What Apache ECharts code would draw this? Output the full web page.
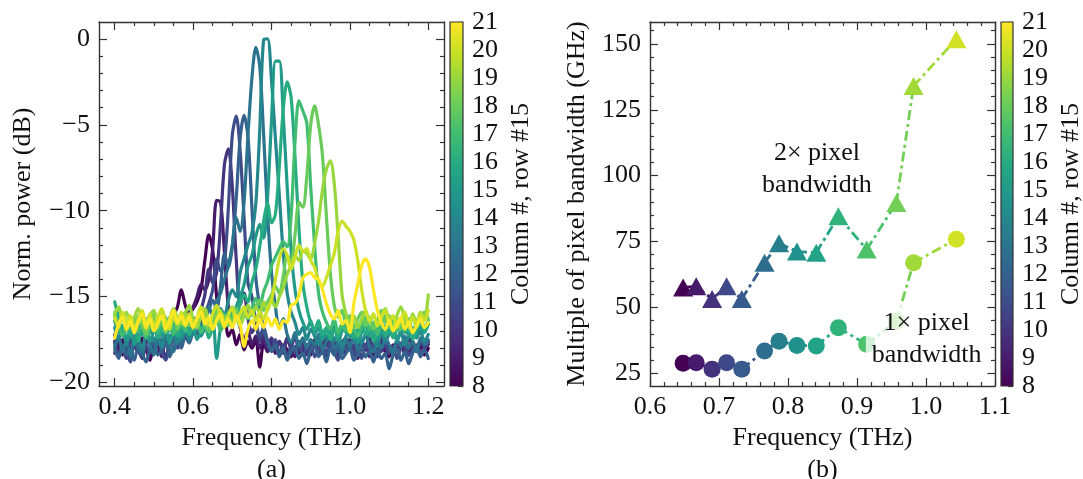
<!DOCTYPE html>
<html>
<head>
<meta charset="utf-8">
<title>Pixel spectra and bandwidth</title>
<script src="https://cdn.jsdelivr.net/npm/echarts@6/dist/echarts.min.js"></script>
<style>
  html, body { margin: 0; padding: 0; background: #ffffff; }
  #chart { width: 1083px; height: 479px; }
</style>
</head>
<body>
<div id="chart"></div>
<script>
// Frequency sampling of the measured spectra (THz)
const freqGrid = [
  0.40, 0.41, 0.42, 0.43, 0.44, 0.45, 0.46, 0.47, 0.48, 0.49,
  0.50, 0.51, 0.52, 0.53, 0.54, 0.55, 0.56, 0.57, 0.58, 0.59,
  0.60, 0.61, 0.62, 0.63, 0.64, 0.65, 0.66, 0.67, 0.68, 0.69,
  0.70, 0.71, 0.72, 0.73, 0.74, 0.75, 0.76, 0.77, 0.78, 0.79,
  0.80, 0.81, 0.82, 0.83, 0.84, 0.85, 0.86, 0.87, 0.88, 0.89,
  0.90, 0.91, 0.92, 0.93, 0.94, 0.95, 0.96, 0.97, 0.98, 0.99,
  1.00, 1.01, 1.02, 1.03, 1.04, 1.05, 1.06, 1.07, 1.08, 1.09,
  1.10, 1.11, 1.12, 1.13, 1.14, 1.15, 1.16, 1.17, 1.18, 1.19, 1.20
];

// Pixel columns (row #15)
const columns = [8, 9, 10, 11, 12, 13, 14, 15, 16, 17, 18, 19, 20, 21];

// Normalised power spectra (dB), one per column
const spec08 = [-17.6,-18.3,-17.5,-18.1,-18.6,-17.8,-18.2,-17.4,-18.0,-18.7,
  -17.9,-18.3,-17.6,-17.2,-16.6,-16.1,-15.6,-14.6,-15.5,-16.0,
  -15.7,-15.3,-14.6,-12.9,-11.4,-12.3,-15.0,-16.8,-16.2,-17.3,
  -16.9,-17.8,-17.2,-18.1,-17.6,-18.0,-17.5,-19.1,-17.7,-18.2,
  -17.6,-18.0,-18.4,-17.8,-18.1,-18.5,-17.9,-18.3,-17.7,-18.0,
  -18.4,-17.6,-18.1,-17.9,-18.5,-17.8,-18.2,-17.6,-18.3,-18.0,
  -17.5,-18.2,-18.6,-17.9,-18.1,-17.7,-18.4,-18.0,-17.6,-18.2,
  -18.5,-17.8,-18.1,-17.7,-18.3,-18.0,-17.6,-18.2,-17.9,-18.4,-18.0];
const spec09 = [-17.2,-17.9,-18.4,-17.6,-18.1,-17.3,-18.0,-18.6,-17.7,-17.4,
  -18.2,-17.8,-18.5,-17.5,-17.9,-17.2,-16.8,-17.4,-16.6,-16.0,
  -15.6,-15.0,-14.3,-14.6,-14.0,-12.2,-9.4,-9.5,-12.4,-15.6,
  -16.4,-15.9,-16.8,-17.5,-17.0,-17.8,-17.3,-18.0,-17.5,-18.2,
  -17.7,-18.3,-17.6,-18.0,-17.4,-18.1,-18.5,-17.7,-18.2,-17.8,
  -18.0,-17.5,-18.3,-17.9,-17.4,-18.1,-17.8,-18.4,-17.6,-18.0,
  -17.7,-18.2,-17.5,-18.1,-17.8,-18.5,-17.6,-18.0,-17.4,-18.2,
  -17.9,-18.3,-17.6,-18.0,-17.7,-18.4,-17.8,-18.1,-17.5,-18.0,-17.8];
const spec10 = [-18.3,-17.5,-17.9,-18.6,-17.4,-18.0,-17.6,-18.4,-17.2,-17.8,
  -18.1,-17.3,-17.9,-18.5,-17.6,-17.0,-17.7,-16.9,-17.3,-16.6,
  -16.2,-16.7,-15.8,-14.9,-13.4,-14.2,-13.6,-10.8,-7.3,-6.4,
  -8.6,-12.8,-15.5,-14.8,-16.3,-17.1,-16.7,-17.6,-17.2,-17.9,
  -17.4,-18.0,-17.6,-18.3,-17.5,-17.9,-17.3,-18.1,-17.7,-18.4,
  -17.6,-17.9,-18.2,-17.4,-17.8,-18.0,-17.5,-18.3,-17.7,-17.4,
  -18.1,-17.8,-18.4,-17.6,-17.9,-17.3,-18.0,-17.7,-18.2,-17.5,
  -17.9,-18.3,-17.6,-17.8,-18.1,-17.4,-17.9,-18.2,-17.7,-18.0,-17.6];
const spec11 = [-17.7,-18.4,-17.9,-18.2,-18.8,-17.6,-18.1,-18.5,-17.8,-18.3,
  -18.0,-17.5,-18.2,-18.7,-17.9,-17.4,-18.0,-17.6,-17.1,-17.5,
  -16.8,-17.2,-16.5,-16.0,-15.4,-14.6,-12.8,-13.5,-13.0,-9.8,
  -5.6,-4.5,-6.5,-10.4,-14.2,-15.0,-16.4,-17.3,-16.8,-17.6,
  -18.1,-17.5,-18.3,-17.8,-18.6,-17.9,-18.2,-17.6,-18.4,-18.0,
  -17.7,-18.5,-18.1,-17.8,-18.3,-17.6,-18.2,-18.7,-17.9,-18.1,
  -17.6,-18.4,-18.0,-18.6,-17.8,-18.2,-17.7,-18.5,-18.0,-17.8,
  -18.3,-17.9,-18.6,-18.0,-17.7,-18.4,-18.1,-17.8,-18.3,-18.0,-17.7];
const spec12 = [-18.0,-18.6,-17.8,-18.4,-18.1,-18.7,-17.9,-18.3,-18.8,-18.0,
  -17.6,-18.4,-18.1,-17.7,-18.5,-17.9,-17.4,-18.0,-17.3,-17.7,
  -17.0,-16.6,-17.1,-16.3,-15.8,-15.2,-15.7,-14.4,-12.5,-13.3,
  -12.1,-9.3,-5.8,-4.45,-5.7,-9.8,-13.9,-15.6,-16.9,-17.6,
  -18.2,-17.8,-18.5,-18.0,-18.7,-18.2,-17.9,-18.6,-18.3,-18.9,
  -18.1,-17.8,-18.5,-18.2,-18.8,-18.0,-18.4,-17.9,-18.6,-18.3,
  -18.0,-18.7,-18.4,-17.9,-18.5,-18.2,-18.8,-18.1,-18.6,-18.3,
  -19.2,-18.4,-18.0,-18.7,-18.2,-18.9,-18.3,-17.9,-18.5,-18.1,-18.6];
const spec13 = [-17.9,-17.3,-18.2,-17.6,-18.5,-17.4,-17.9,-18.3,-17.2,-17.8,
  -18.4,-17.5,-18.0,-17.3,-17.9,-18.2,-17.1,-17.6,-17.0,-16.7,
  -17.2,-16.5,-16.9,-16.2,-15.6,-16.1,-15.3,-14.8,-14.0,-13.2,
  -12.0,-10.4,-11.2,-9.5,-5.6,-2.3,-0.5,-1.6,-5.6,-10.2,
  -13.6,-15.6,-16.8,-16.3,-17.2,-17.7,-17.1,-17.9,-17.4,-18.0,
  -17.5,-17.8,-17.2,-18.1,-17.6,-17.3,-18.0,-17.7,-18.3,-17.5,
  -17.9,-17.4,-18.1,-17.7,-17.2,-17.9,-18.2,-17.6,-18.0,-17.4,
  -17.8,-18.3,-17.5,-17.9,-17.3,-18.0,-17.6,-18.2,-17.4,-17.8,-17.5];
const spec14 = [-16.8,-17.5,-16.9,-17.8,-17.2,-16.6,-17.4,-18.0,-17.1,-16.7,
  -17.6,-17.2,-17.9,-16.9,-17.4,-17.0,-17.7,-17.1,-16.8,-17.5,
  -17.0,-16.6,-17.3,-16.8,-16.3,-16.9,-16.2,-15.7,-16.1,-15.2,
  -14.6,-15.0,-13.6,-12.8,-12.0,-11.3,-9.6,-5.3,-0.05,0.0,
  -2.4,-5.8,-9.1,-12.5,-14.8,-15.9,-16.5,-17.2,-16.8,-17.5,
  -16.9,-17.3,-17.8,-17.0,-17.4,-16.8,-17.6,-17.1,-17.9,-17.3,
  -16.9,-17.5,-17.0,-17.7,-17.2,-16.8,-17.4,-17.9,-17.1,-17.6,
  -17.2,-16.9,-17.5,-17.0,-17.8,-17.3,-16.8,-17.4,-17.0,-17.6,-17.2];
const spec15 = [-16.4,-17.1,-16.7,-17.5,-16.9,-17.8,-16.6,-17.2,-16.8,-17.6,
  -17.0,-16.5,-17.3,-16.9,-17.7,-17.1,-16.6,-17.4,-16.9,-17.2,
  -16.7,-17.5,-17.0,-16.4,-16.9,-16.3,-18.6,-16.8,-16.2,-15.9,
  -16.4,-15.6,-15.0,-14.3,-13.2,-12.6,-11.5,-10.8,-11.6,-9.2,
  -4.8,-1.3,-1.3,-4.5,-8.6,-12.3,-14.6,-15.8,-16.5,-16.9,
  -16.4,-17.2,-16.8,-17.5,-16.9,-17.3,-16.7,-17.6,-17.0,-16.6,
  -17.4,-16.9,-17.7,-17.1,-16.6,-17.3,-16.8,-17.5,-17.0,-16.7,
  -17.2,-16.8,-17.6,-17.0,-16.5,-17.3,-16.9,-17.4,-16.7,-17.1,-16.6];
const spec16 = [-15.3,-16.2,-16.9,-16.4,-17.3,-16.7,-17.6,-16.8,-16.3,-17.1,
  -16.6,-17.4,-16.9,-16.2,-17.0,-16.5,-17.3,-16.8,-16.4,-17.2,
  -16.7,-16.3,-17.0,-16.6,-17.4,-16.8,-16.1,-16.7,-16.0,-16.5,
  -15.8,-16.2,-15.4,-14.9,-15.3,-14.2,-13.4,-12.1,-10.6,-9.6,
  -10.7,-10.2,-7.4,-4.1,-2.5,-3.4,-6.9,-11.0,-14.2,-15.6,
  -16.5,-16.9,-16.4,-17.2,-16.8,-17.5,-16.9,-17.3,-16.6,-17.1,
  -16.7,-17.4,-16.9,-16.4,-17.2,-16.8,-17.6,-17.0,-16.5,-17.3,
  -16.8,-17.4,-16.9,-16.3,-17.1,-16.7,-17.5,-16.9,-16.4,-17.0,-16.6];
const spec17 = [-16.1,-16.8,-17.3,-16.5,-16.9,-16.2,-17.0,-16.6,-17.4,-16.7,
  -16.3,-17.1,-16.5,-16.9,-16.2,-17.2,-16.7,-16.3,-17.0,-16.5,
  -16.9,-16.4,-17.1,-16.6,-16.2,-16.8,-16.3,-17.0,-16.5,-16.1,
  -16.7,-16.2,-16.6,-15.9,-16.3,-15.7,-15.1,-15.5,-14.7,-14.1,
  -13.2,-12.7,-12.2,-11.8,-12.1,-10.3,-6.0,-3.6,-4.2,-4.9,
  -8.6,-12.0,-14.8,-15.9,-16.5,-16.9,-16.3,-17.1,-16.6,-17.0,
  -16.4,-16.9,-17.3,-16.7,-16.2,-16.9,-16.5,-17.2,-16.6,-16.1,
  -16.8,-16.4,-17.0,-16.5,-16.9,-16.3,-17.1,-16.6,-16.2,-16.8,-16.4];
const spec18 = [-15.9,-16.6,-16.2,-17.0,-16.4,-16.9,-16.1,-16.7,-17.2,-16.5,
  -16.0,-16.8,-16.3,-17.1,-16.6,-16.2,-16.9,-16.4,-15.9,-16.7,
  -16.3,-16.8,-16.1,-16.6,-17.0,-16.4,-15.8,-16.5,-16.1,-16.7,
  -16.2,-15.7,-16.4,-16.0,-15.5,-16.1,-15.6,-15.2,-15.8,-15.3,
  -14.9,-14.4,-14.8,-13.8,-12.6,-12.9,-11.4,-9.5,-9.8,-8.0,
  -5.0,-3.9,-5.0,-6.8,-10.3,-13.6,-15.5,-16.2,-15.8,-16.6,
  -16.1,-16.8,-16.3,-15.9,-16.7,-16.2,-16.9,-16.4,-15.8,-16.5,
  -16.1,-16.8,-16.3,-16.9,-16.0,-16.6,-16.2,-16.8,-16.4,-15.9,-16.3];
const spec19 = [-16.0,-15.6,-16.3,-15.9,-16.7,-16.2,-15.7,-16.4,-16.9,-16.1,
  -15.8,-16.5,-16.0,-16.8,-16.3,-15.7,-16.2,-16.6,-16.0,-15.5,
  -16.3,-16.8,-16.1,-15.7,-16.4,-16.9,-16.2,-15.8,-16.5,-16.0,
  -15.6,-16.2,-16.7,-16.1,-15.5,-16.0,-15.6,-15.9,-15.3,-15.8,
  -15.2,-15.6,-15.0,-14.5,-13.7,-13.2,-12.6,-12.9,-12.3,-12.5,
  -12.8,-11.9,-10.6,-8.8,-7.6,-7.1,-8.4,-11.5,-14.9,-16.0,
  -16.6,-16.1,-16.8,-16.3,-15.8,-16.5,-16.0,-16.7,-16.2,-15.7,
  -16.4,-16.9,-16.1,-15.6,-16.3,-16.8,-16.0,-16.5,-15.9,-16.3,-14.9];
const spec20 = [-16.2,-16.8,-15.9,-16.5,-16.1,-16.9,-16.3,-15.8,-16.6,-16.0,
  -16.7,-16.2,-15.7,-16.4,-16.9,-16.1,-16.6,-15.9,-16.5,-16.0,
  -16.8,-16.2,-15.6,-16.3,-16.7,-16.0,-15.5,-16.2,-16.8,-16.1,
  -15.7,-16.4,-16.0,-15.6,-16.2,-15.8,-16.4,-15.9,-16.3,-15.7,
  -15.2,-14.0,-12.8,-12.2,-12.6,-13.4,-12.7,-12.0,-12.4,-12.2,
  -12.9,-13.3,-14.1,-14.4,-13.9,-13.2,-12.5,-11.2,-10.6,-10.9,
  -11.2,-11.7,-12.9,-14.6,-15.8,-16.4,-16.0,-16.7,-16.2,-15.8,
  -16.5,-16.1,-16.8,-16.3,-15.9,-16.6,-16.2,-16.7,-16.0,-16.4,-15.8];
const spec21 = [-17.4,-16.6,-16.2,-16.9,-16.4,-17.1,-16.5,-16.0,-16.8,-16.3,
  -17.0,-16.6,-16.1,-16.9,-16.4,-15.8,-16.5,-16.1,-16.7,-16.2,
  -16.8,-16.3,-15.9,-16.6,-16.2,-16.9,-16.4,-16.0,-16.7,-16.3,
  -16.8,-16.1,-16.6,-17.9,-16.9,-16.4,-16.9,-16.3,-16.8,-16.2,
  -16.7,-16.3,-16.9,-16.4,-16.5,-15.5,-15.4,-14.9,-13.9,-13.7,
  -13.6,-13.9,-14.0,-14.6,-15.4,-16.0,-16.3,-15.8,-16.6,-16.4,
  -17.1,-15.4,-14.3,-13.2,-12.8,-13.3,-14.6,-15.8,-16.5,-16.9,
  -16.4,-17.0,-16.6,-16.2,-16.9,-16.5,-17.1,-16.7,-16.3,-16.8,-16.5];
const spectra = [spec08, spec09, spec10, spec11, spec12, spec13, spec14,
                 spec15, spec16, spec17, spec18, spec19, spec20, spec21];

// Panel (b): peak frequency of each pixel (THz) and bandwidth multiples (GHz)
const peakFreq    = [0.648, 0.667, 0.690, 0.711, 0.733, 0.766, 0.787, 0.813, 0.841, 0.873, 0.914, 0.957, 0.982, 1.044];
const bandwidth2x = [57.6, 58.0, 53.2, 58.0, 53.2, 67.0, 74.4, 71.2, 70.8, 84.6, 72.0, 89.6, 134.0, 151.8];
const bandwidth1x = [28.8, 29.0, 26.6, 29.0, 26.6, 33.5, 37.2, 35.6, 35.4, 42.3, 36.0, 44.8, 67.0, 75.9];

// Tick labels
const ticksFreqA   = [0.4, 0.6, 0.8, 1.0, 1.2];
const ticksPowerA  = [0, -5, -10, -15, -20];
const ticksFreqB   = [0.6, 0.7, 0.8, 0.9, 1.0, 1.1];
const ticksBandB   = [25, 50, 75, 100, 125, 150];
const ticksColumn  = [8, 9, 10, 11, 12, 13, 14, 15, 16, 17, 18, 19, 20, 21];

// ---------------------------------------------------------------------------
const FONT = '"Liberation Serif", "Times New Roman", serif';
const INK = '#111111';
const FRAME = '#333333';
const FS = 26;

const VIRIDIS = ['#440154', '#482475', '#414487', '#355f8d', '#2a788e', '#21918c',
                 '#22a884', '#44bf70', '#7ad151', '#bddf26', '#fde725'];
function hexRgb(h) { return [1, 3, 5].map(k => parseInt(h.slice(k, k + 2), 16)); }
function viridis(t) {
  t = Math.max(0, Math.min(1, t));
  const s = t * (VIRIDIS.length - 1);
  const i = Math.min(VIRIDIS.length - 2, Math.floor(s));
  const f = s - i;
  const a = hexRgb(VIRIDIS[i]), b = hexRgb(VIRIDIS[i + 1]);
  const c = a.map((v, k) => Math.round(v + (b[k] - v) * f));
  return 'rgb(' + c.join(',') + ')';
}
const cbMin = ticksColumn[0], cbMax = ticksColumn[ticksColumn.length - 1];
const colColor = c => viridis((c - cbMin) / (cbMax - cbMin));
// markers of panel (b) stop short of the yellow end of the map
const markerColor = c => viridis((c - cbMin) / (cbMax - cbMin) * 0.93);

function stepTicks(lo, hi, step, skip) {
  const out = [];
  const n0 = Math.ceil(lo / step - 1e-9), n1 = Math.floor(hi / step + 1e-9);
  for (let k = n0; k <= n1; k++) {
    const v = +(k * step).toFixed(4);
    if (v <= lo + 1e-9 || v >= hi - 1e-9) continue;
    if (!skip.some(s => Math.abs(s - v) < 1e-9)) out.push(v);
  }
  return out;
}
const minus = v => (v < 0 ? '\u2212' + Math.abs(v) : String(v));
const lbl = { color: INK, fontFamily: FONT, fontSize: FS };
const tickLine = { color: FRAME, width: 1.2 };
const frameLine = { color: FRAME, width: 1.4 };

const grids = [
  { left: 99, top: 22, width: 345, height: 364 },   // panel (a)
  { left: 450, top: 22, width: 13, height: 364 },   // colour bar (a)
  { left: 650, top: 22, width: 345, height: 364 },  // panel (b)
  { left: 1001, top: 22, width: 12, height: 364 }   // colour bar (b)
].map(g => Object.assign({ outerBoundsMode: 'none', containLabel: false }, g));

const xAxes = [], yAxes = [];

function framedAxes(gi, xr, yr, xMaj, xStep, yMaj, yStep, xFmt, yFmt, xName, yName, yNameGap) {
  const xi = xAxes.length, yi = yAxes.length;
  const xMin = stepTicks(xr[0], xr[1], xStep, xMaj);
  const yMin = stepTicks(yr[0], yr[1], yStep, yMaj);
  const base = (extra) => Object.assign({ gridIndex: gi, type: 'value', splitLine: { show: false } }, extra);
  ['bottom', 'top'].forEach(pos => {
    const main = pos === 'bottom';
    xAxes.push(base({
      min: xr[0], max: xr[1], position: pos,
      axisLine: { show: true, onZero: false, lineStyle: frameLine },
      axisTick: { show: true, inside: true, length: 8, customValues: xMaj, lineStyle: tickLine },
      axisLabel: main ? Object.assign({ show: true, customValues: xMaj, formatter: xFmt, margin: 8 }, lbl) : { show: false },
      name: main ? xName : '', nameLocation: 'middle', nameGap: 38, nameTextStyle: lbl
    }));
    xAxes.push(base({
      min: xr[0], max: xr[1], position: pos,
      axisLine: { show: false, onZero: false },
      axisTick: { show: true, inside: true, length: 4, customValues: xMin, lineStyle: tickLine },
      axisLabel: { show: false }
    }));
  });
  ['left', 'right'].forEach(pos => {
    const main = pos === 'left';
    yAxes.push(base({
      min: yr[0], max: yr[1], position: pos,
      axisLine: { show: true, onZero: false, lineStyle: frameLine },
      axisTick: { show: true, inside: true, length: 8, customValues: yMaj, lineStyle: tickLine },
      axisLabel: main ? Object.assign({ show: true, customValues: yMaj, formatter: yFmt, margin: 9 }, lbl) : { show: false },
      name: main ? yName : '', nameLocation: 'middle', nameGap: yNameGap, nameTextStyle: lbl
    }));
    yAxes.push(base({
      min: yr[0], max: yr[1], position: pos,
      axisLine: { show: false, onZero: false },
      axisTick: { show: true, inside: true, length: 4, customValues: yMin, lineStyle: tickLine },
      axisLabel: { show: false }
    }));
  });
  return { x: xi, y: yi };
}

function colourBarAxes(gi, name) {
  const xi = xAxes.length, yi = yAxes.length;
  xAxes.push({ gridIndex: gi, type: 'value', min: 0, max: 1, show: false });
  yAxes.push({
    gridIndex: gi, type: 'value', min: cbMin, max: cbMax, position: 'right',
    splitLine: { show: false },
    axisLine: { show: false, onZero: false },
    axisTick: { show: true, inside: true, length: 5, customValues: ticksColumn, lineStyle: tickLine },
    axisLabel: Object.assign({ show: true, customValues: ticksColumn, margin: 9 }, lbl),
    name: name, nameLocation: 'middle', nameGap: 45, nameTextStyle: lbl
  });
  yAxes.push({
    gridIndex: gi, type: 'value', min: cbMin, max: cbMax, position: 'right',
    splitLine: { show: false },
    axisLine: { show: false, onZero: false },
    axisTick: { show: true, inside: true, length: 3, customValues: stepTicks(cbMin, cbMax, 0.2, ticksColumn), lineStyle: tickLine },
    axisLabel: { show: false }
  });
  return { x: xi, y: yi };
}

const A = framedAxes(0, [0.36, 1.24], [-20.2, 0.98], ticksFreqA, 0.05, ticksPowerA, 1,
  v => v.toFixed(1), minus, 'Frequency (THz)', 'Norm. power (dB)', 63);
const CA = colourBarAxes(1, 'Column #, row #15');
const B = framedAxes(2, [0.6, 1.1], [20.2, 158.3], ticksFreqB, 0.02, ticksBandB, 5,
  v => v.toFixed(1), v => String(v), 'Frequency (THz)', 'Multiple of pixel bandwidth (GHz)', 60);
const CB = colourBarAxes(3, 'Column #, row #15');

const series = [];

// Panel (a): one spectrum per column
columns.forEach((c, k) => {
  series.push({
    type: 'line', xAxisIndex: A.x, yAxisIndex: A.y,
    data: freqGrid.map((f, i) => [f, spectra[k][i]]),
    symbol: 'none', showSymbol: false, silent: true, z: 2, smooth: 0.3,
    lineStyle: { color: colColor(c), width: 3.2, join: 'round', cap: 'round' }
  });
});

// Colour bars
const barGradient = () => new echarts.graphic.LinearGradient(0, 1, 0, 0,
  VIRIDIS.map((col, i) => ({ offset: i / (VIRIDIS.length - 1), color: col })));
[CA, CB].forEach(ax => {
  series.push({
    type: 'custom', xAxisIndex: ax.x, yAxisIndex: ax.y, silent: true, clip: false,
    data: [[0, cbMin, 1, cbMax]],
    renderItem: (params, api) => {
      const p0 = api.coord([api.value(0), api.value(1)]);
      const p1 = api.coord([api.value(2), api.value(3)]);
      return {
        type: 'rect', z2: 0,
        shape: { x: p0[0], y: p1[1], width: p1[0] - p0[0], height: p0[1] - p1[1] },
        style: { fill: barGradient(), stroke: FRAME, lineWidth: 1.2 }
      };
    }
  });
});

// Panel (b): dash-dot segments coloured by column, then the markers
function bandwidthSeries(values, symbol, size) {
  for (let i = 0; i < values.length - 1; i++) {
    series.push({
      type: 'line', xAxisIndex: B.x, yAxisIndex: B.y, silent: true, z: 2,
      data: [[peakFreq[i], values[i]], [peakFreq[i + 1], values[i + 1]]],
      symbol: 'none', showSymbol: false,
      lineStyle: { color: markerColor(columns[i]), width: 2.8, type: [10, 4, 3, 4] }
    });
  }
  series.push({
    type: 'scatter', xAxisIndex: B.x, yAxisIndex: B.y, silent: true, z: 3,
    symbol: symbol, symbolSize: size,
    data: values.map((v, i) => ({ value: [peakFreq[i], v], itemStyle: { color: markerColor(columns[i]), opacity: 1 } }))
  });
}
bandwidthSeries(bandwidth2x, 'triangle', [20, 18]);
bandwidthSeries(bandwidth1x, 'circle', 17);

const chart = echarts.init(document.getElementById('chart'), null, { renderer: 'canvas' });
chart.setOption({
  animation: false,
  backgroundColor: '#ffffff',
  grid: grids,
  xAxis: xAxes,
  yAxis: yAxes,
  series: series
});

// Text annotations placed in data coordinates of panel (b)
const notes = [
  { text: '2\u00d7 pixel\nbandwidth', f: 0.842, v: 102.6 },
  { text: '1\u00d7 pixel\nbandwidth', f: 1.001, v: 38.0 }
];
const graphics = notes.map(n => {
  const p = chart.convertToPixel({ xAxisIndex: B.x, yAxisIndex: B.y }, [n.f, n.v]);
  return {
    type: 'text', x: p[0], y: p[1], z: 100,
    style: {
      text: n.text, fontFamily: FONT, fontSize: FS, fill: INK, lineHeight: 32,
      align: 'center', verticalAlign: 'middle',
      backgroundColor: 'rgba(255,255,255,0.75)', padding: [3, 6]
    }
  };
});
const panelLabel = (txt, gi) => ({
  type: 'text', x: grids[gi].left + grids[gi].width / 2, y: 470, z: 100,
  style: { text: txt, fontFamily: FONT, fontSize: FS, fill: INK, align: 'center', verticalAlign: 'middle' }
});
graphics.push(panelLabel('(a)', 0), panelLabel('(b)', 2));
chart.setOption({ graphic: graphics });
</script>
</body>
</html>
